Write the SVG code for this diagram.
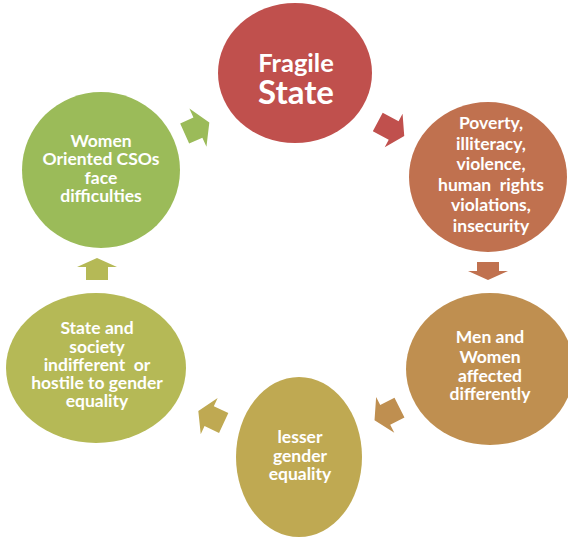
<svg xmlns="http://www.w3.org/2000/svg" width="568" height="538" viewBox="0 0 568 538">
<style>
text{font-family:Lato,"Open Sans","Liberation Sans",sans-serif;font-weight:bold;fill:#fff;text-anchor:middle;font-size:17.5px;white-space:pre}
.big1{font-size:25.5px}
.big2{font-size:33px}
</style>
<rect width="568" height="538" fill="#fff"/>
<g id="connectors">
<polygon fill="#9BBB59" transform="translate(197,128) rotate(-24)" points="-13.5,-11 1,-11 1,-21 13.5,0 1,21 1,11 -13.5,11"/>
<polygon fill="#C0504D" transform="translate(391,129) rotate(28)" points="-15,-10.5 3,-10.5 3,-19 15,0 3,19 3,10.5 -15,10.5"/>
<polygon fill="#C0714F" transform="translate(488,271) rotate(90)" points="-9,-11 0,-11 0,-20 9,0 0,20 0,11 -9,11"/>
<polygon fill="#BF8F50" transform="translate(387,414) rotate(153)" points="-14,-11 2,-11 2,-20 14,0 2,20 2,11 -14,11"/>
<polygon fill="#BFA952" transform="translate(211,417) rotate(205)" points="-14,-11 2,-11 2,-20 14,0 2,20 2,11 -14,11"/>
<polygon fill="#B5B956" transform="translate(97,269) rotate(-90)" points="-11,-11 2,-11 2,-20 11,0 2,20 2,11 -11,11"/>
</g>
<g id="fragile">
<ellipse cx="295" cy="73" rx="77" ry="70" fill="#C0504D"/>
<text x="296" class="big1"><tspan x="296" y="72">Fragile</tspan><tspan x="296" y="104" class="big2">State</tspan></text>
</g>
<g id="poverty">
<ellipse cx="488" cy="177" rx="79" ry="75" fill="#C0714F"/>
<text><tspan x="491" y="129">Poverty,</tspan><tspan x="491" y="149.5">illiteracy,</tspan><tspan x="491" y="170">violence,</tspan><tspan x="491" y="190.5">human  rights</tspan><tspan x="491" y="211">violations,</tspan><tspan x="491" y="231.5">insecurity</tspan></text>
</g>
<g id="men-women">
<ellipse cx="490" cy="369" rx="84" ry="76" fill="#BF8F50"/>
<text><tspan x="490" y="343">Men and</tspan><tspan x="490" y="362.5">Women</tspan><tspan x="490" y="382">affected</tspan><tspan x="490" y="400">differently</tspan></text>
</g>
<g id="lesser">
<ellipse cx="299" cy="457" rx="63" ry="80" fill="#BFA952"/>
<text><tspan x="300" y="443">lesser</tspan><tspan x="300" y="462">gender</tspan><tspan x="300" y="480">equality</tspan></text>
</g>
<g id="state-society">
<ellipse cx="96" cy="368" rx="90" ry="75" fill="#B5B956"/>
<text><tspan x="97" y="334">State and</tspan><tspan x="97" y="352.5">society</tspan><tspan x="97" y="371">indifferent  or</tspan><tspan x="97" y="389">hostile to gender</tspan><tspan x="97" y="407">equality</tspan></text>
</g>
<g id="csos">
<ellipse cx="101" cy="170" rx="79" ry="78" fill="#9BBB59"/>
<text><tspan x="101" y="147">Women</tspan><tspan x="101" y="165">Oriented CSOs</tspan><tspan x="101" y="183.5">face</tspan><tspan x="101" y="202">difficulties</tspan></text>
</g>
</svg>
